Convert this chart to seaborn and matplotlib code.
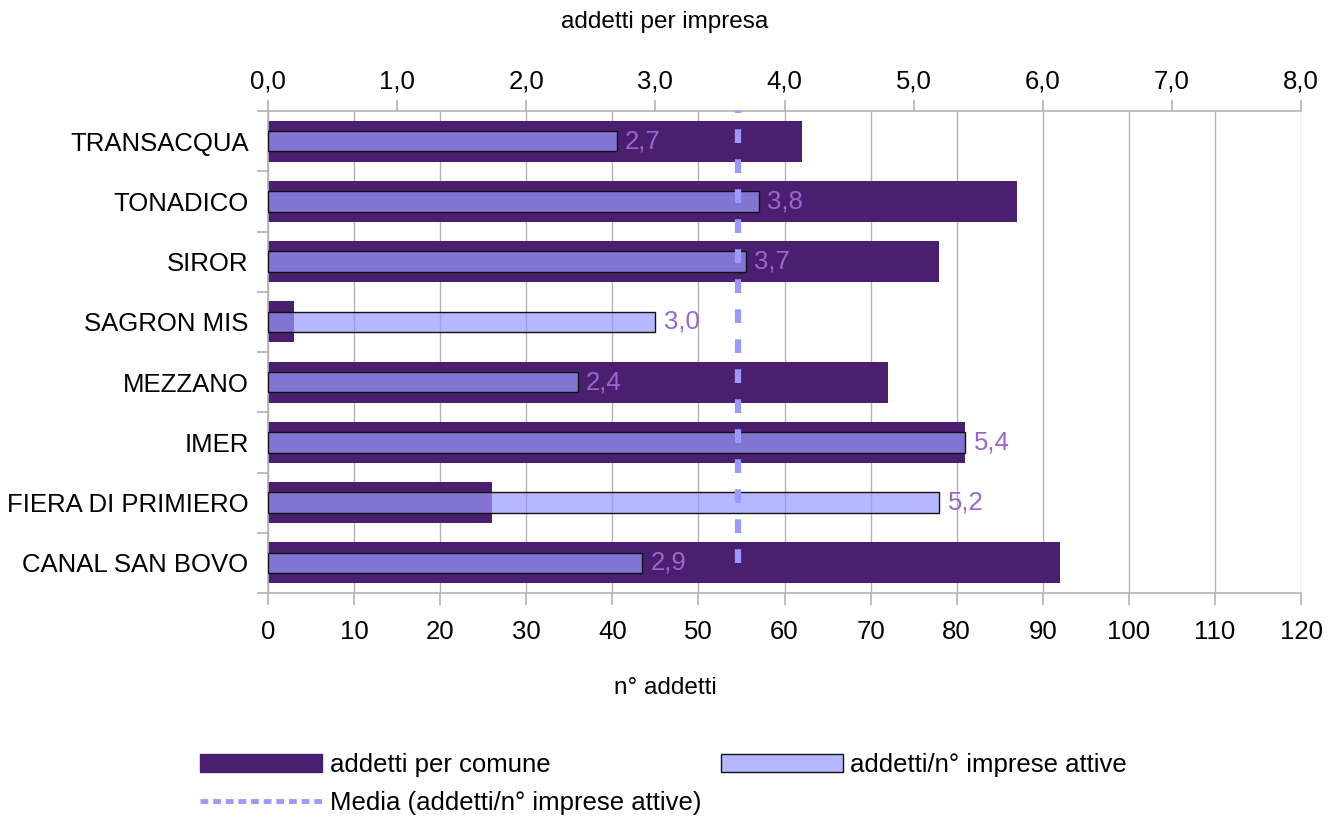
import matplotlib
matplotlib.use("Agg")
import matplotlib.pyplot as plt
from matplotlib.lines import Line2D
from matplotlib.patches import Patch
from matplotlib.colors import to_rgb
import numpy as np
import pandas as pd
import seaborn as sns

# ---- data ----
comuni = ["TRANSACQUA", "TONADICO", "SIROR", "SAGRON MIS", "MEZZANO",
          "IMER", "FIERA DI PRIMIERO", "CANAL SAN BOVO"]
addetti_comune = [62, 87, 78, 3, 72, 81, 26, 92]
addetti_per_impresa = [2.7, 3.8, 3.7, 3.0, 2.4, 5.4, 5.2, 2.9]
bottom_ticks = [0, 10, 20, 30, 40, 50, 60, 70, 80, 90, 100, 110, 120]
top_ticks = [0, 1, 2, 3, 4, 5, 6, 7, 8]
label_comune = "addetti per comune"
label_impresa = "addetti/n° imprese attive"
label_media = "Media (addetti/n° imprese attive)"
title_top = "addetti per impresa"
title_bottom = "n° addetti"

# ---- style ----
sns.set_theme(style="white")
plt.rcParams['font.family'] = ['Liberation Sans', 'DejaVu Sans']
plt.rcParams['text.color'] = 'black'

DARK = "#4B1F6F"
LIGHT = "#9999FF"
LIGHT_A = (*to_rgb(LIGHT), 0.7)
LABEL = "#9966CC"
GRID = "#B3B3B3"
FS = 18.5

def comma(v, nd=1):
    return f"{v:.{nd}f}".replace('.', ',')

df = pd.DataFrame({"comune": comuni, "addetti": addetti_comune,
                   "per_impresa": addetti_per_impresa})

fig = plt.figure(figsize=(13.4, 8.17), dpi=100)
ax = fig.add_axes([0.2, 1 - 593 / 817, (1301 - 268) / 1340, (593 - 111) / 817])
ax2 = ax.twiny()

sns.barplot(data=df, x="addetti", y="comune", orient="h", color=DARK,
            saturation=1, width=0.68, linewidth=0, errorbar=None, ax=ax)
sns.barplot(data=df, x="per_impresa", y="comune", orient="h", color=LIGHT,
            saturation=1, width=0.34, edgecolor="black",
            linewidth=1.0, errorbar=None, ax=ax2)
for p in ax2.containers[0]:
    p.set_alpha(None)
    p.set_facecolor(LIGHT_A)
    p.set_edgecolor("#111111")

mean_val = float(np.mean(addetti_per_impresa))
ax2.plot([mean_val, mean_val], [len(comuni) - 1, -0.5], color=LIGHT, lw=4.5,
         linestyle=(0, (2.2, 2.6)), dash_capstyle="butt", zorder=5)

ax.set_xlim(bottom_ticks[0], bottom_ticks[-1])
ax2.set_xlim(top_ticks[0], top_ticks[-1])
ax.set_ylim(len(comuni) - 0.5, -0.5)

ax.set_xticks(bottom_ticks)
ax.set_xticklabels([str(t) for t in bottom_ticks])
ax2.set_xticks(top_ticks)
ax2.set_xticklabels([comma(t) for t in top_ticks])

ax.set_xlabel("")
ax.set_ylabel("")
ax2.set_xlabel("")
ax2.set_ylabel("")

ax.grid(axis="x", color=GRID, lw=1)
ax.grid(axis="y", visible=False)
ax.set_axisbelow(True)

for s in ["top", "right"]:
    ax.spines[s].set_visible(False)
for s in ["left", "bottom"]:
    ax.spines[s].set_color(GRID)
    ax.spines[s].set_linewidth(1.2)
for s in ["left", "right", "bottom"]:
    ax2.spines[s].set_visible(False)
ax2.spines["top"].set_color(GRID)
ax2.spines["top"].set_linewidth(1.2)

ax.tick_params(axis="x", bottom=True, length=8.5, width=1.2, color=GRID,
               pad=11, labelsize=FS, labelcolor="black")
ax.tick_params(axis="y", which="major", left=True, length=0, pad=14,
               labelsize=FS, labelcolor="black")
ax.set_yticks(np.arange(-0.5, len(comuni), 1.0), minor=True)
ax.tick_params(axis="y", which="minor", left=True, length=8, width=1.2,
               color=GRID)
ax2.tick_params(axis="x", top=True, length=8, width=1.2, color=GRID,
                pad=4.5, labelsize=FS, labelcolor="black")

ax2.bar_label(ax2.containers[0], labels=[comma(v) for v in addetti_per_impresa],
              padding=6, color=LABEL, fontsize=FS)

fig.text(665 / 1340, 1 - 22 / 817, title_top, ha="center", va="center",
         fontsize=17.5, color="black")
fig.text(665 / 1340, 1 - 688 / 817, title_bottom, ha="center", va="center",
         fontsize=17.5, color="black")

handles = [Patch(facecolor=DARK, edgecolor=DARK),
           Line2D([0], [0], color=LIGHT, lw=3.5, linestyle=(0, (1.6, 1.0))),
           Patch(facecolor=LIGHT_A, edgecolor="#111111", linewidth=1)]
labels = [label_comune, label_media, label_impresa]
leg = fig.legend(handles, labels, ncol=2, loc="upper left",
                 bbox_to_anchor=(200 / 1340, 1 - 753 / 817), frameon=False,
                 fontsize=FS, handlelength=4.75, handleheight=0.66,
                 handletextpad=0.3, columnspacing=0.75, borderpad=0,
                 borderaxespad=0, labelspacing=0.55)
for t in leg.get_texts():
    t.set_color("black")

fig.savefig("out.png", dpi=100)
